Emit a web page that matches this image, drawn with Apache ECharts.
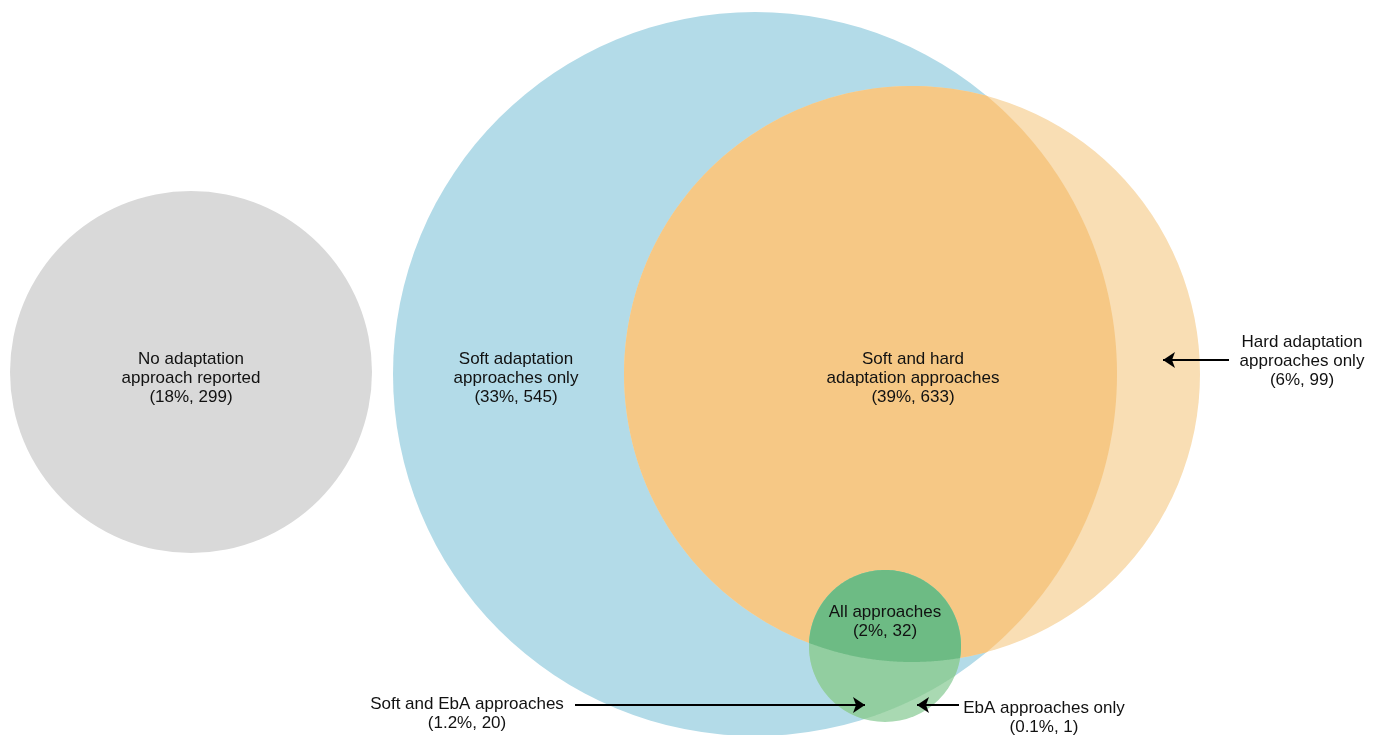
<!DOCTYPE html>
<html>
<head>
<meta charset="utf-8">
<script src="https://cdn.jsdelivr.net/npm/echarts@6/dist/echarts.min.js"></script>
<style>
  html, body { margin: 0; padding: 0; background: #fff; }
  #chart { width: 1381px; height: 735px; }
</style>
</head>
<body>
<div id="chart"></div>
<script>
// sets: circle centre and radius, in plot units (x 0..1381, y 0..735 from the top)
const setNames = ['None', 'Soft', 'Hard', 'EbA']
const circleX = [191, 755, 912, 885]
const circleY = [372, 374, 374, 646]
const circleR = [181, 362, 288, 76]

// regions of the diagram
const regionNames = [
  'No adaptation\napproach reported',
  'Soft adaptation\napproaches only',
  'Soft and hard\nadaptation approaches',
  'Hard adaptation\napproaches only',
  'All approaches',
  'Soft and EbA approaches',
  'EbA approaches only'
]
const regionPct = ['18%', '33%', '39%', '6%', '2%', '1.2%', '0.1%']
const regionCount = [299, 545, 633, 99, 32, 20, 1]
const labelX = [191, 516, 913, 1302, 885, 467, 1044]
const labelY = [378, 378, 378, 361, 622, 714, 718]

// pointer arrows [from, to]
const arrowFrom = [[1229, 360], [575, 705], [959, 705]]
const arrowTo = [[1163, 360], [865, 705], [917, 705]]

// drawing order: whole circles, then overlaps painted on top
const shapes = [
  { kind: 'circle', a: 0, color: '#d9d9d9' },
  { kind: 'circle', a: 1, color: '#b3dbe8' },
  { kind: 'circle', a: 2, color: '#f9deb4' },
  { kind: 'lens', a: 1, b: 2, color: '#f6c885' },
  { kind: 'circle', a: 3, color: '#a9d9b2' },
  { kind: 'lens', a: 3, b: 1, color: '#92cea0' },
  { kind: 'lens', a: 3, b: 2, color: '#6dbb84' }
]

function lensPoints(c1, r1, c2, r2, n) {
  const dx = c2[0] - c1[0], dy = c2[1] - c1[1]
  const d = Math.hypot(dx, dy)
  const a = (r1 * r1 - r2 * r2 + d * d) / (2 * d)
  const b = d - a
  const clamp = (v) => Math.max(-1, Math.min(1, v))
  const alpha = Math.acos(clamp(a / r1))
  const beta = Math.acos(clamp(b / r2))
  const phi = Math.atan2(dy, dx)
  const pts = []
  for (let k = 0; k <= n; k++) {
    const t = phi - alpha + (2 * alpha * k) / n
    pts.push([c1[0] + r1 * Math.cos(t), c1[1] + r1 * Math.sin(t)])
  }
  for (let k = 0; k <= n; k++) {
    const t = phi + Math.PI - beta + (2 * beta * k) / n
    pts.push([c2[0] + r2 * Math.cos(t), c2[1] + r2 * Math.sin(t)])
  }
  return pts
}

const font = '"Liberation Sans", Helvetica, Arial, sans-serif'
const chart = echarts.init(document.getElementById('chart'))

chart.setOption({
  animation: false,
  grid: { left: 0, right: 0, top: 0, bottom: 0 },
  xAxis: { type: 'value', min: 0, max: 1381, show: false },
  yAxis: { type: 'value', min: 0, max: 735, inverse: true, show: false },
  series: [
    {
      type: 'custom',
      silent: true,
      data: shapes.map((s) => [circleX[s.a], circleY[s.a]]),
      renderItem(params, api) {
        const s = shapes[params.dataIndex]
        const ca = api.coord([circleX[s.a], circleY[s.a]])
        const ra = api.size([circleR[s.a], 0])[0]
        if (s.kind === 'circle') {
          return { type: 'circle', shape: { cx: ca[0], cy: ca[1], r: ra }, style: { fill: s.color } }
        }
        const cb = api.coord([circleX[s.b], circleY[s.b]])
        const rb = api.size([circleR[s.b], 0])[0]
        return { type: 'polygon', shape: { points: lensPoints(ca, ra, cb, rb, 120) }, style: { fill: s.color } }
      }
    },
    {
      type: 'lines',
      coordinateSystem: 'cartesian2d',
      silent: true,
      symbol: ['none', 'arrow'],
      symbolSize: 12,
      lineStyle: { color: '#000', width: 2, opacity: 1 },
      data: arrowFrom.map((p, i) => ({ coords: [p, arrowTo[i]] }))
    },
    {
      type: 'custom',
      silent: true,
      data: regionNames.map((n, i) => [labelX[i], labelY[i]]),
      renderItem(params, api) {
        const i = params.dataIndex
        const p = api.coord([labelX[i], labelY[i]])
        return {
          type: 'text',
          x: p[0], y: p[1],
          style: {
            text: regionNames[i] + '\n(' + regionPct[i] + ', ' + regionCount[i] + ')',
            font: '17px ' + font,
            fill: '#111',
            align: 'center',
            verticalAlign: 'middle',
            lineHeight: 19
          }
        }
      }
    }
  ]
})
</script>
</body>
</html>
